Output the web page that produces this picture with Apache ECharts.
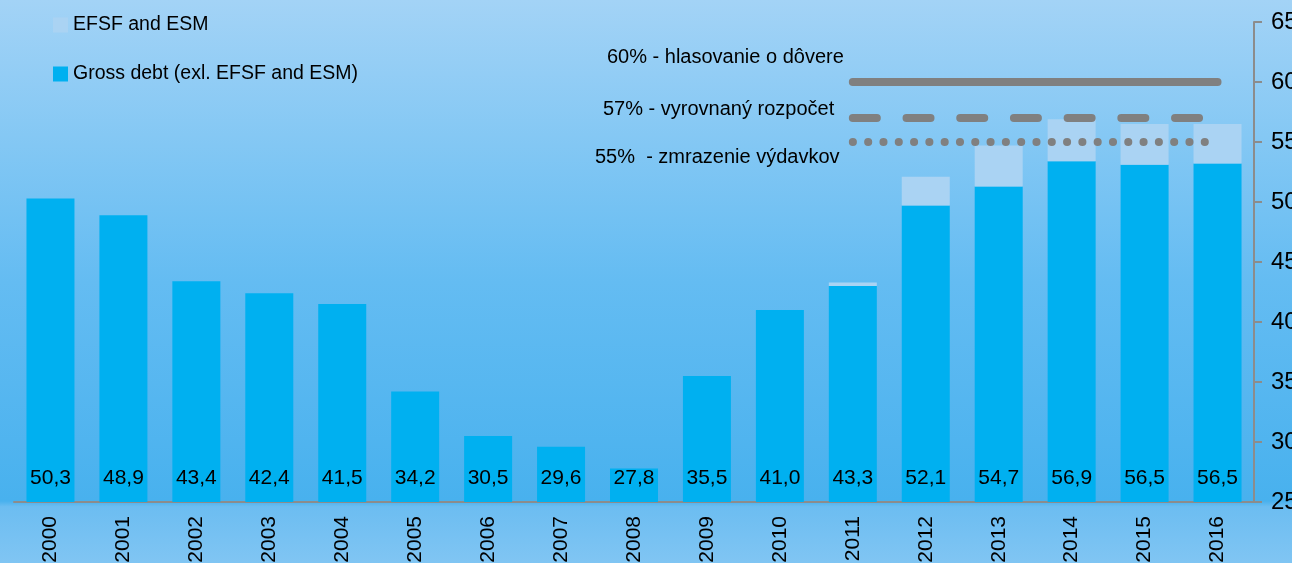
<!DOCTYPE html>
<html>
<head>
<meta charset="utf-8">
<script src="https://cdn.jsdelivr.net/npm/echarts@6/dist/echarts.min.js"></script>
<style>
  html, body { margin: 0; padding: 0; }
  #chart { width: 1292px; height: 563px; }
</style>
</head>
<body>
<div id="chart"></div>
<script>
// data
var years = ['2000', '2001', '2002', '2003', '2004', '2005', '2006', '2007', '2008',
  '2009', '2010', '2011', '2012', '2013', '2014', '2015', '2016'];
var grossDebt = [50.3, 48.9, 43.4, 42.4, 41.5, 34.2, 30.5, 29.6, 27.8,
  35.5, 41.0, 43.0, 49.7, 51.3, 53.4, 53.1, 53.2];
var efsfEsm = [0, 0, 0, 0, 0, 0, 0, 0, 0,
  0, 0, 0.3, 2.4, 3.4, 3.5, 3.4, 3.3];
var totals = ['50,3', '48,9', '43,4', '42,4', '41,5', '34,2', '30,5', '29,6', '27,8',
  '35,5', '41,0', '43,3', '52,1', '54,7', '56,9', '56,5', '56,5'];
// brzdy dlhu: 60 / 57 / 55 % (od 2011)
var line60 = [null, null, null, null, null, null, null, null, null, null, null, 60, 60, 60, 60, 60, 60];
var line57 = [null, null, null, null, null, null, null, null, null, null, null, 57, 57, 57, 57, 57, 57];
var line55 = [null, null, null, null, null, null, null, null, null, null, null, 55, 55, 55, 55, 55, 55];
var yTicks = [25, 65, 5];

var font = '"Liberation Sans", Arial, sans-serif';
var grey = '#808080';

var chart = echarts.init(document.getElementById('chart'));

var option = {
  animation: false,
  backgroundColor: {
    type: 'linear', x: 0, y: 0, x2: 0, y2: 1,
    colorStops: [
      { offset: 0, color: '#a3d3f6' },
      { offset: 0.5, color: '#64bcf2' },
      { offset: 0.89, color: '#48b1ee' },
      { offset: 0.9, color: '#6cbdf1' },
      { offset: 1, color: '#80c5f3' }
    ]
  },
  grid: { left: 14, right: 38, top: 22, bottom: 61, outerBoundsMode: 'none' },
  legend: {
    orient: 'vertical',
    left: 48,
    top: 10,
    itemWidth: 15,
    itemHeight: 15,
    itemGap: 29,
    icon: 'rect',
    data: ['EFSF and ESM', 'Gross debt (exl. EFSF and ESM)'],
    textStyle: { fontFamily: font, fontSize: 19.5, color: '#000' }
  },
  xAxis: {
    type: 'category',
    data: years,
    axisLine: { lineStyle: { color: '#8c8c8c', width: 2 } },
    axisTick: { length: 8, lineStyle: { color: '#8c8c8c', width: 2 } },
    axisLabel: { rotate: 90, fontFamily: font, fontSize: 21, color: '#000', margin: 14 }
  },
  yAxis: {
    type: 'value',
    position: 'right',
    min: yTicks[0],
    max: yTicks[1],
    interval: yTicks[2],
    splitLine: { show: false },
    axisLine: { show: true, lineStyle: { color: '#8c8c8c', width: 2 } },
    axisTick: { show: true, length: 8, lineStyle: { color: '#8c8c8c', width: 2 } },
    axisLabel: { fontFamily: font, fontSize: 24, color: '#000', margin: 17 }
  },
  series: [
    {
      name: 'Gross debt (exl. EFSF and ESM)',
      type: 'bar',
      stack: 'debt',
      barWidth: 48,
      data: grossDebt,
      itemStyle: { color: '#00b0f0' },
      label: {
        show: true,
        position: 'insideBottom',
        distance: 13,
        fontFamily: font,
        fontSize: 21,
        color: '#000',
        formatter: function (p) { return totals[p.dataIndex]; }
      }
    },
    {
      name: 'EFSF and ESM',
      type: 'bar',
      stack: 'debt',
      barWidth: 48,
      data: efsfEsm,
      itemStyle: { color: '#aad3f3' }
    },
    {
      type: 'line',
      data: line60,
      symbol: 'none',
      lineStyle: { color: grey, width: 8, cap: 'round' }
    },
    {
      type: 'line',
      data: line57,
      symbol: 'none',
      lineStyle: { color: grey, width: 8, cap: 'round', type: [24, 29.7] }
    },
    {
      type: 'line',
      data: line55,
      symbol: 'none',
      lineStyle: { color: grey, width: 8, cap: 'round', type: [0.1, 15.2] }
    }
  ],
  graphic: [
    { type: 'text', left: 607, top: 47, style: { text: '60% - hlasovanie o dôvere', font: '20px ' + font, fill: '#000' } },
    { type: 'text', left: 603, top: 99, style: { text: '57% - vyrovnaný rozpočet', font: '20px ' + font, fill: '#000' } },
    { type: 'text', left: 595, top: 147, style: { text: '55%  - zmrazenie výdavkov', font: '20px ' + font, fill: '#000' } }
  ]
};

chart.setOption(option);
</script>
</body>
</html>
